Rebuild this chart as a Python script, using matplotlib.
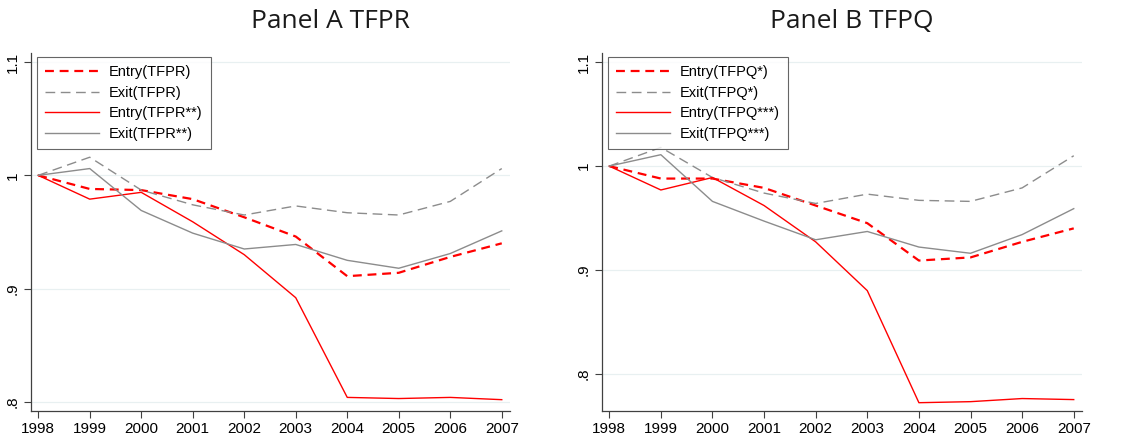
import matplotlib
matplotlib.use('Agg')
import matplotlib.pyplot as plt
from matplotlib.ticker import FixedLocator

# values
years = [1998, 1999, 2000, 2001, 2002, 2003, 2004, 2005, 2006, 2007]

entry_tfpr = [1.0, 0.988, 0.987, 0.979, 0.963, 0.946, 0.911, 0.914, 0.928, 0.940]
exit_tfpr = [1.0, 1.016, 0.987, 0.974, 0.965, 0.973, 0.967, 0.965, 0.977, 1.006]
entry_tfpr2 = [1.0, 0.979, 0.985, 0.959, 0.930, 0.892, 0.804, 0.803, 0.804, 0.802]
exit_tfpr2 = [1.0, 1.006, 0.969, 0.949, 0.935, 0.939, 0.925, 0.918, 0.931, 0.951]

entry_tfpq = [1.0, 0.988, 0.988, 0.979, 0.962, 0.945, 0.909, 0.912, 0.927, 0.940]
exit_tfpq = [1.0, 1.018, 0.989, 0.974, 0.964, 0.973, 0.967, 0.966, 0.979, 1.010]
entry_tfpq3 = [1.0, 0.977, 0.989, 0.962, 0.927, 0.880, 0.772, 0.773, 0.776, 0.775]
exit_tfpq3 = [1.0, 1.011, 0.966, 0.947, 0.929, 0.937, 0.922, 0.916, 0.934, 0.959]

yticks = [0.8, 0.9, 1.0, 1.1]
ytick_labels = ['.8', '.9', '1', '1.1']

panels = [
    dict(title='Panel A TFPR', ylim=(0.792, 1.108),
         series=[(entry_tfpr, 'Entry(TFPR)'), (exit_tfpr, 'Exit(TFPR)'),
                 (entry_tfpr2, 'Entry(TFPR**)'), (exit_tfpr2, 'Exit(TFPR**)')]),
    dict(title='Panel B TFPQ', ylim=(0.764, 1.109),
         series=[(entry_tfpq, 'Entry(TFPQ*)'), (exit_tfpq, 'Exit(TFPQ*)'),
                 (entry_tfpq3, 'Entry(TFPQ***)'), (exit_tfpq3, 'Exit(TFPQ***)')]),
]

styles = [
    dict(color='#ff0000', lw=1.6, ls=(0, (4, 2.6))),
    dict(color='#8c8c8c', lw=1.0, ls=(0, (7, 4))),
    dict(color='#ff0000', lw=1.0, ls='-'),
    dict(color='#8c8c8c', lw=1.0, ls='-'),
]

plt.rcParams['font.family'] = ['Liberation Sans', 'DejaVu Sans']

fig = plt.figure(figsize=(11.31, 4.41), dpi=100)
ax_rects = [[31 / 1131, 30 / 441, 479 / 1131, 358 / 441],
            [602 / 1131, 30 / 441, 480 / 1131, 358 / 441]]
title_x = [330 / 1131, 852 / 1131]

for p, rect, tx in zip(panels, ax_rects, title_x):
    ax = fig.add_axes(rect)
    for (vals, lab), st in zip(p['series'], styles):
        ax.plot(years, vals, label=lab, **st)
    ax.set_xlim(1997.86, 2007.16)
    ax.set_ylim(*p['ylim'])
    ax.set_xticks(years)
    ax.set_xticklabels([str(y) for y in years], fontsize=11)
    ax.yaxis.set_major_locator(FixedLocator(yticks))
    ax.set_yticklabels(ytick_labels, fontsize=11, rotation=90, va='center')
    ax.grid(axis='y', color='#e8f0f1', lw=0.9)
    ax.set_axisbelow(True)
    for s in ['top', 'right']:
        ax.spines[s].set_visible(False)
    for s in ['left', 'bottom']:
        ax.spines[s].set_color('#404040')
        ax.spines[s].set_linewidth(0.9)
    ax.tick_params(direction='out', length=5, width=0.8, color='#404040', pad=3)
    leg = ax.legend(loc='upper left', bbox_to_anchor=(0.012, 0.988), fontsize=10.5,
                    frameon=True, fancybox=False, edgecolor='#404040',
                    handlelength=3.7, handletextpad=0.7, borderpad=0.55,
                    labelspacing=0.45, borderaxespad=0)
    leg.get_frame().set_linewidth(0.8)
    fig.text(tx, 1 - 21 / 441, p['title'], ha='center', va='center',
             fontsize=19, family=['Open Sans', 'DejaVu Sans'], color='#1a1a1a')

fig.savefig('out.png', dpi=100)
